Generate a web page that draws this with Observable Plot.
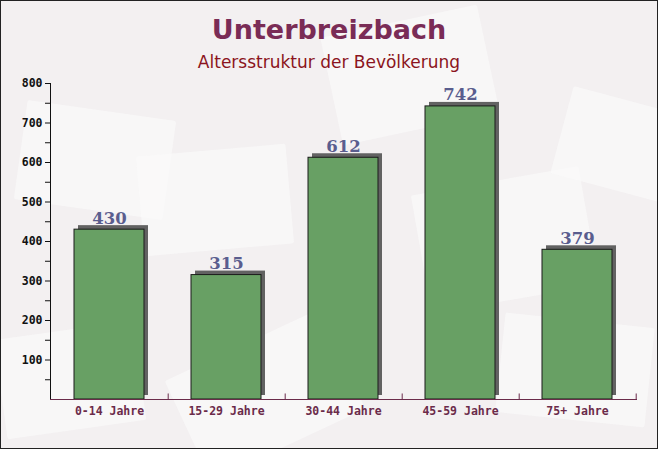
<!DOCTYPE html>
<html><head><meta charset="utf-8">
<script src="https://cdn.jsdelivr.net/npm/d3@7"></script>
<script src="https://cdn.jsdelivr.net/npm/@observablehq/plot@0.6"></script>
<style>
body{margin:0;background:#fff;}
#wrap{position:relative;width:658px;height:449px;overflow:hidden;background:#f3f0f1;}
.deco{position:absolute;background:#fbfafa;opacity:0.65;border-radius:2px;}
#head{position:relative;z-index:1;height:75px;text-align:center;}
#title{position:absolute;left:0;right:0;top:13px;font:bold 27px "DejaVu Sans",sans-serif;color:#7a2c56;line-height:34px;}
#sub{position:absolute;left:0;right:0;top:50px;font:17px "DejaVu Sans",sans-serif;color:#8b1420;line-height:24px;}
#chart{position:relative;z-index:1;}
#border{position:absolute;inset:0;box-shadow:inset 0 0 0 1px #222;z-index:2;pointer-events:none;}
</style></head>
<body>
<div id="wrap">
  <div class="deco" style="left:20px;top:110px;width:150px;height:100px;transform:rotate(8deg)"></div>
  <div class="deco" style="left:330px;top:20px;width:160px;height:110px;transform:rotate(-12deg)"></div>
  <div class="deco" style="left:140px;top:150px;width:150px;height:100px;transform:rotate(-5deg)"></div>
  <div class="deco" style="left:420px;top:180px;width:170px;height:120px;transform:rotate(-10deg)"></div>
  <div class="deco" style="left:560px;top:100px;width:120px;height:90px;transform:rotate(15deg)"></div>
  <div class="deco" style="left:0px;top:330px;width:140px;height:100px;transform:rotate(-8deg)"></div>
  <div class="deco" style="left:180px;top:340px;width:170px;height:110px;transform:rotate(-25deg)"></div>
  <div class="deco" style="left:500px;top:320px;width:150px;height:100px;transform:rotate(6deg)"></div>
  <div id="head"><div id="title">Unterbreizbach</div><div id="sub">Altersstruktur der Bevölkerung</div></div>
  <div id="chart"></div>
  <div id="border"></div>
</div>
<script>
const categories = ["0-14 Jahre","15-29 Jahre","30-44 Jahre","45-59 Jahre","75+ Jahre"];
const values = [430, 315, 612, 742, 379];
const majorTicks = [100, 200, 300, 400, 500, 600, 700, 800];
const minorTicks = [50, 150, 250, 350, 450, 550, 650, 750];

const data = categories.map((c, i) => ({cat: c, value: values[i]}));
const W = 658, ML = 50, MR = 21;
const step = (W - ML - MR) / categories.length;

const chart = Plot.plot({
  width: W,
  height: 374,
  marginTop: 8,
  marginBottom: 50,
  marginLeft: ML,
  marginRight: MR,
  style: {background: "transparent", overflow: "visible"},
  x: {domain: categories, paddingInner: 0.4, paddingOuter: 0.2, label: null},
  y: {domain: [0, 800], label: null},
  marks: [
    Plot.barY(data, {x: "cat", y: "value", fill: "#626262", dx: 4, dy: -4}),
    Plot.barY(data, {x: "cat", y: "value", fill: "#68a064", stroke: "#1a1a1a", strokeWidth: 1}),
    Plot.text(data, {x: "cat", y: "value", text: d => String(d.value), dy: -6, lineAnchor: "bottom",
      fill: "#5a5d8e", fontSize: 16.5, fontWeight: "bold", fontFamily: "DejaVu Serif, serif"}),
    Plot.axisY({ticks: majorTicks, tickSize: 5, tickPadding: 3, fontSize: 11.5, fontWeight: "bold",
      fontFamily: "DejaVu Sans Mono, monospace", stroke: "#111", fill: "#111", label: null}),
    Plot.axisY({ticks: minorTicks, tickSize: 5, text: null, stroke: "#111", label: null}),
    Plot.frame({anchor: "left", stroke: "#111"}),
    Plot.ruleX(categories, {x: d => d, dx: step / 2, y1: 0, y2: 14, stroke: "#6b2b4a"}),
    Plot.ruleY([0], {stroke: "#6b2b4a"}),
    Plot.axisX({tickSize: 0, tickPadding: 7, fontSize: 11.5, fontWeight: "bold", fontFamily: "DejaVu Sans Mono, monospace",
      fill: "#6b2b4a", label: null})
  ]
});
document.getElementById("chart").appendChild(chart);
</script>
</body></html>
